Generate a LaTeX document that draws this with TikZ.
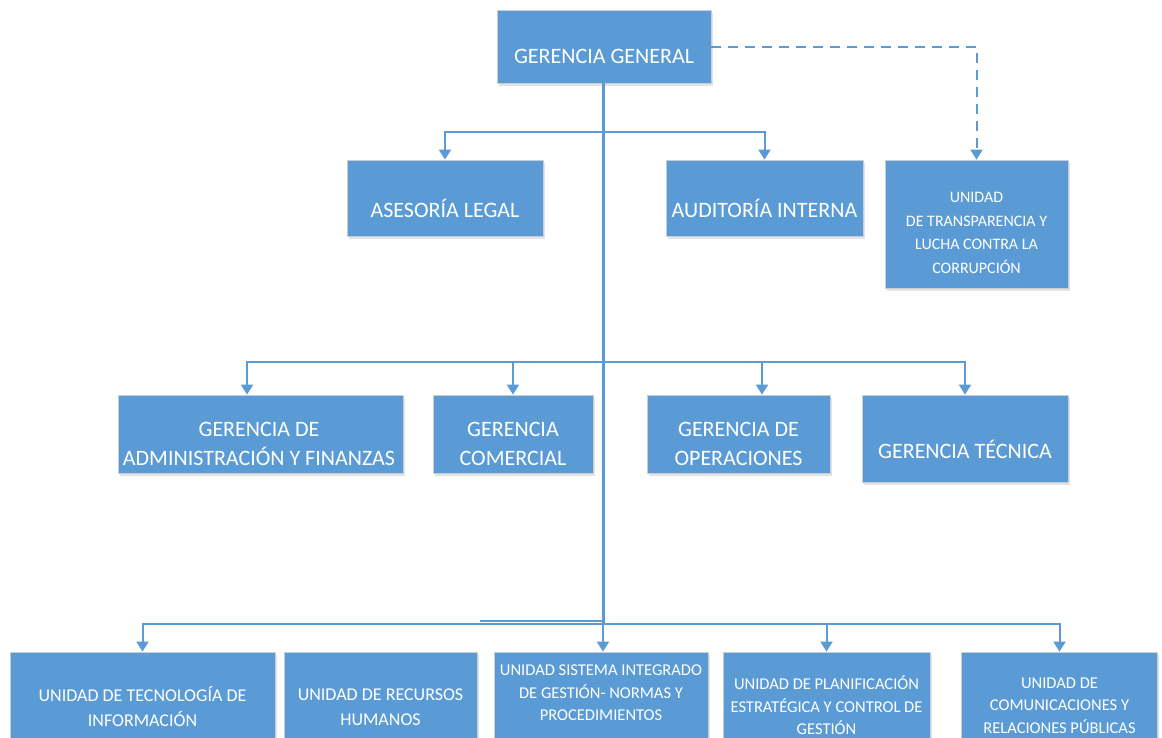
\documentclass[tikz,border=0pt]{standalone}
\usepackage{fontspec}
\setmainfont{Carlito}
\usetikzlibrary{arrows.meta,shadows}
\definecolor{boxblue}{HTML}{5B9BD5}
\definecolor{boxedge}{HTML}{C9CED6}
\tikzset{
  orgbox/.style={draw=boxedge, line width=0.8pt, fill=boxblue, rectangle, inner sep=0pt,
    drop shadow={shadow xshift=1.5pt, shadow yshift=-2.5pt, opacity=0.18, fill=black!60}},
  boxtext/.style={text=white, align=center, inner sep=0pt},
  bigtxt/.style={boxtext, font=\fontsize{22}{29}\selectfont},
  midtxt/.style={boxtext, font=\fontsize{18}{25}\selectfont},
  smalltxt/.style={boxtext, font=\fontsize{16.5}{22.5}\selectfont},
  conn/.style={draw=boxblue, line width=2pt},
  arr/.style={conn, -{Triangle[width=12pt,length=10pt]}},
  trunkline/.style={draw=boxblue, line width=3pt},
  dashconn/.style={arr, dash pattern=on 10pt off 7pt},
}
\begin{document}
\begin{tikzpicture}[x=1pt,y=-1pt]
\useasboundingbox (0,0) rectangle (1162,737);
\clip (0,0) rectangle (1162,737);
\fill[white] (0,0) rectangle (1162,737);

% boxes
\node[orgbox, minimum width=214pt, minimum height=73pt] (gg) at (604,46.5) {};
\node[orgbox, minimum width=196pt, minimum height=76pt] (al) at (445,198) {};
\node[orgbox, minimum width=197pt, minimum height=76pt] (ai) at (764.5,198) {};
\node[orgbox, minimum width=183pt, minimum height=128pt] (tr) at (976.5,224) {};
\node[orgbox, minimum width=285pt, minimum height=78pt] (ga) at (260.5,434) {};
\node[orgbox, minimum width=160pt, minimum height=78pt] (gc) at (513,434) {};
\node[orgbox, minimum width=183pt, minimum height=78pt] (go) at (738.5,434) {};
\node[orgbox, minimum width=206pt, minimum height=87pt] (gt) at (965,438.5) {};
\node[orgbox, minimum width=265pt, minimum height=108pt] (uti) at (142.5,706) {};
\node[orgbox, minimum width=193pt, minimum height=108pt] (urh) at (380.5,706) {};
\node[orgbox, minimum width=214pt, minimum height=108pt] (sig) at (601,706) {};
\node[orgbox, minimum width=207pt, minimum height=108pt] (pe) at (826.5,706) {};
\node[orgbox, minimum width=196pt, minimum height=108pt] (crp) at (1059.5,706) {};

% texts
\node[bigtxt] (gg-t) at (604,56) {GERENCIA GENERAL};
\node[bigtxt] (al-t) at (445,208) {ASESORÍA LEGAL};
\node[bigtxt] (ai-t) at (764.5,208) {AUDITORÍA INTERNA};
\node[smalltxt, font=\fontsize{16}{23.5}\selectfont] (tr-t) at (976.5,233) {UNIDAD\\DE TRANSPARENCIA Y\\LUCHA CONTRA LA\\CORRUPCIÓN};
\node[bigtxt] (ga-t) at (259,444) {GERENCIA DE\\ADMINISTRACIÓN Y FINANZAS};
\node[bigtxt] (gc-t) at (513,444) {GERENCIA\\COMERCIAL};
\node[bigtxt] (go-t) at (738.5,444) {GERENCIA DE\\OPERACIONES};
\node[bigtxt] (gt-t) at (965,449) {GERENCIA TÉCNICA};
\node[midtxt] (uti-t) at (142.5,707) {UNIDAD DE TECNOLOGÍA DE\\INFORMACIÓN};
\node[midtxt] (urh-t) at (380.5,707) {UNIDAD DE RECURSOS\\HUMANOS};
\node[smalltxt] (sig-t) at (601,693) {UNIDAD SISTEMA INTEGRADO\\DE GESTIÓN- NORMAS Y\\PROCEDIMIENTOS};
\node[smalltxt] (pe-t) at (826.5,705.5) {UNIDAD DE PLANIFICACIÓN\\ESTRATÉGICA Y CONTROL DE\\GESTIÓN};
\node[smalltxt] (crp-t) at (1059.5,705.5) {UNIDAD DE\\COMUNICACIONES Y\\RELACIONES PÚBLICAS};

% branch points
\coordinate (b1) at (603,132);
\coordinate (b2) at (603,362);
\coordinate (b3) at (603,623.5);

% connectors
\draw[arr] (b1) -| (al.north);
\draw[arr] (b1) -| (ai.north);
\draw[arr] (b2) -| ([xshift=-13.5pt]ga.north);
\draw[arr] (b2) -| (gc.north);
\draw[arr] (b2) -| ([xshift=23.5pt]go.north);
\draw[arr] (b2) -| (gt.north);
\draw[arr] (b3) -| (uti.north);
\draw[arr] (b3) -| (pe.north);
\draw[arr] (b3) -| (crp.north);
\draw[conn] ([yshift=2.5pt]b3) -- ++(-123,0);
\draw[arr] (b3) -- (sig.north -| b3);
\draw[trunkline] (gg.south -| b3) -- (b3);
\draw[dashconn] (gg.east) -| (tr.north);
\end{tikzpicture}
\end{document}
